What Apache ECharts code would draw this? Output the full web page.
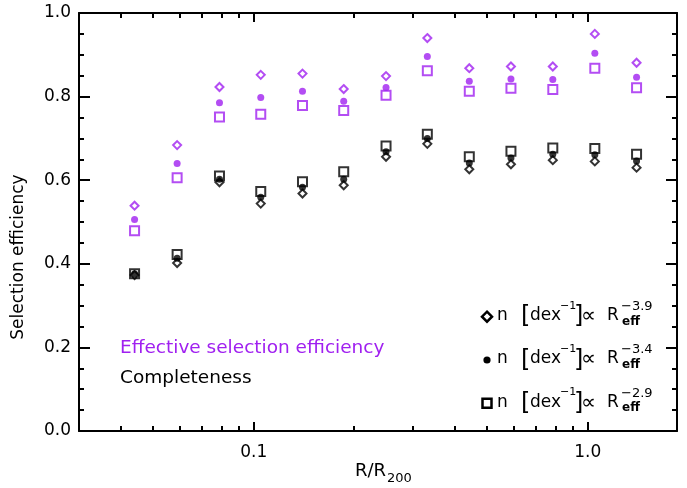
<!DOCTYPE html>
<html><head><meta charset="utf-8">
<script src="https://cdn.jsdelivr.net/npm/echarts@6/dist/echarts.min.js"></script>
<style>html,body{margin:0;padding:0;background:#fff}#c{width:687px;height:488px}</style>
</head><body><div id="c"></div>
<script>
// ---- data ----
const radius = [0.044, 0.059, 0.079, 0.105, 0.140, 0.186, 0.249, 0.331, 0.442, 0.589, 0.786, 1.05, 1.40];
const effDiamond  = [0.539, 0.684, 0.823, 0.852, 0.855, 0.818, 0.849, 0.940, 0.868, 0.872, 0.872, 0.950, 0.881];
const effDot      = [0.506, 0.640, 0.785, 0.798, 0.813, 0.789, 0.822, 0.896, 0.837, 0.842, 0.841, 0.904, 0.846];
const effSquare   = [0.479, 0.606, 0.751, 0.758, 0.779, 0.767, 0.803, 0.862, 0.813, 0.820, 0.817, 0.868, 0.821];
const compDiamond = [0.373, 0.402, 0.595, 0.544, 0.568, 0.588, 0.656, 0.687, 0.626, 0.638, 0.648, 0.645, 0.630];
const compDot     = [0.376, 0.413, 0.602, 0.559, 0.583, 0.602, 0.668, 0.700, 0.641, 0.653, 0.662, 0.661, 0.646];
const compSquare  = [0.376, 0.422, 0.610, 0.573, 0.596, 0.620, 0.682, 0.710, 0.656, 0.669, 0.677, 0.676, 0.662];
const xMajorTicks = [0.1, 1.0];
const xMinorTicks = [0.03, 0.04, 0.05, 0.06, 0.07, 0.08, 0.09, 0.2, 0.3, 0.4, 0.5, 0.6, 0.7, 0.8, 0.9];
const slopes = ['−3.9', '−3.4', '−2.9'];
const labelEff = 'Effective selection efficiency';
const labelComp = 'Completeness';

// ---- styling ----
const PURPLE = '#A020F0';
const FONT = 'DejaVu Sans';
const chart = echarts.init(document.getElementById('c'), null, {renderer: 'canvas'});

const xBase = {type: 'log', logBase: 10, min: 0.03, max: 1.85, splitLine: {show: false}};
function xAx(pos, major) {
  return Object.assign({}, xBase, {
    position: pos,
    axisLine: {show: major, onZero: false, lineStyle: {color: '#000', width: 2}},
    axisTick: {show: true, inside: true, length: major ? 9 : 5,
      customValues: major ? xMajorTicks : xMinorTicks, lineStyle: {color: '#000', width: 2}},
    axisLabel: (major && pos === 'bottom') ? {show: true, customValues: xMajorTicks,
      formatter: v => Number(v).toFixed(1), margin: 13, fontSize: 17, fontFamily: FONT, color: '#000'} : {show: false}
  });
}
function yAx(pos) {
  return {
    type: 'value', min: 0, max: 1, interval: 0.2, position: pos,
    axisLine: {show: true, onZero: false, lineStyle: {color: '#000', width: 2}},
    axisTick: {show: true, inside: true, length: 11, lineStyle: {color: '#000', width: 2}},
    minorTick: {show: true, splitNumber: 4, length: 5, lineStyle: {color: '#000', width: 2}},
    axisLabel: pos === 'left' ? {show: true, formatter: v => v.toFixed(1), margin: 8,
      fontSize: 17, fontFamily: FONT, color: '#000'} : {show: false},
    splitLine: {show: false}, minorSplitLine: {show: false}
  };
}
function sc(data, symbol, size, color, filled) {
  return {
    type: 'scatter', xAxisIndex: 0, yAxisIndex: 0,
    data: radius.map((r, i) => [r, data[i]]),
    symbol: symbol, symbolSize: size,
    itemStyle: filled ? {color: color} : {color: 'rgba(0,0,0,0)', borderColor: color, borderWidth: 2},
    emphasis: {disabled: true}, silent: true
  };
}

// legend / annotation graphics
const rows = [316.7, 360, 403.3];
const g = [];
const ts = (x, y, text, size, extra) => Object.assign({type: 'text', x: x, y: y, silent: true,
  style: Object.assign({text: text, fontSize: size, fontFamily: FONT, fill: '#000', align: 'left', verticalAlign: 'middle'}, extra || {})});
rows.forEach((r, i) => {
  if (i === 0) g.push({type: 'polygon', silent: true, shape: {points: [[487, r - 5], [492, r], [487, r + 5], [482, r]]},
    style: {fill: 'none', stroke: '#000', lineWidth: 2.5}});
  if (i === 1) g.push({type: 'circle', silent: true, shape: {cx: 487, cy: r, r: 3.6}, style: {fill: '#000'}});
  if (i === 2) g.push({type: 'rect', silent: true, shape: {x: 482.5, y: r - 4.5, width: 9, height: 9},
    style: {fill: 'none', stroke: '#000', lineWidth: 2.5}});
  g.push(ts(497, r - 1, 'n', 17));
  g.push(ts(521, r + 0.5, '[', 24));
  g.push(ts(530, r - 1, 'dex', 17));
  g.push(ts(560, r - 11, '−1', 11));
  g.push(ts(574, r + 0.5, ']', 24));
  g.push(ts(581, r, '∝', 21));
  g.push(ts(607, r - 1, 'R', 17));
  g.push(ts(621, r - 10, slopes[i], 13));
  g.push(ts(622, r + 5, 'eff', 12, {fontWeight: 'bold'}));
});
g.push(ts(120, 348, labelEff, 18.5, {fill: PURPLE}));
g.push(ts(120, 378, labelComp, 18.5));
g.push({type: 'text', x: 19, y: 257, rotation: Math.PI / 2, silent: true,
  style: {text: 'Selection efficiency', fontSize: 17, fontFamily: FONT, fill: '#000', align: 'center', verticalAlign: 'middle'}});
g.push(ts(386, 471, 'R/R', 18, {align: 'right'}));
g.push(ts(387, 479, '200', 13));

chart.setOption({
  animation: false,
  backgroundColor: '#fff',
  grid: {left: 79, right: 10, top: 13, bottom: 57, containLabel: false},
  xAxis: [xAx('bottom', true), xAx('bottom', false), xAx('top', true), xAx('top', false)],
  yAxis: [yAx('left'), yAx('right')],
  series: [
    sc(effDiamond, 'diamond', 8, PURPLE, false),
    sc(effDot, 'circle', 7, PURPLE, true),
    sc(effSquare, 'rect', 9, PURPLE, false),
    sc(compDiamond, 'diamond', 8, '#000', false),
    sc(compDot, 'circle', 7, '#000', true),
    sc(compSquare, 'rect', 9, '#000', false)
  ],
  graphic: g
});
</script></body></html>
